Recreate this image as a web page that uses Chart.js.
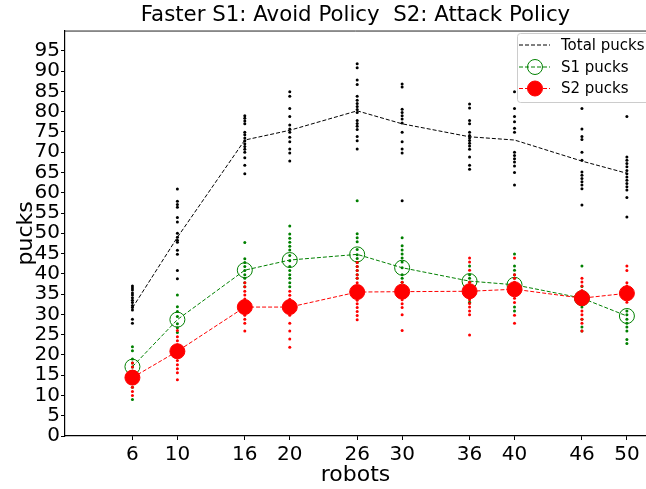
<!DOCTYPE html>
<html>
<head>
<meta charset="utf-8">
<script src="https://cdn.jsdelivr.net/npm/chart.js@4"></script>
<style>
  body { margin: 0; background: #fff; }
  canvas { display: block; }
</style>
</head>
<body>
<canvas id="chart" width="646" height="489"></canvas>
<script>
// robot counts on the x axis
const robots = [6, 10, 16, 20, 26, 30, 36, 40, 46, 50]
const yTicks = [0, 5, 10, 15, 20, 25, 30, 35, 40, 45, 50, 55, 60, 65, 70, 75, 80, 85, 90, 95]

// means per robot count
const totalMean = [31.6, 49.0, 73.0, 75.4, 80.2, 77.0, 73.8, 73.0, 67.8, 64.8]
const s1Mean = [17.1, 28.7, 40.9, 43.4, 44.8, 41.5, 38.2, 37.3, 34.0, 29.6]
const s2Mean = [14.4, 20.9, 31.8, 31.8, 35.5, 35.6, 35.7, 36.2, 34.0, 35.2]

// single runs, one list per robot count
const totalRuns = [
  [37, 36.5, 36, 35.3, 34.8, 34.1, 33.5, 32.9, 32.2, 31.7, 31.1, 28.8, 27.8],
  [60.9, 57.9, 57.1, 56.4, 53.9, 52.8, 50.0, 49.0, 48.3, 47.8, 45.8, 44.8, 40.8, 38.8],
  [79.0, 78.4, 77.7, 77.0, 74.9, 74.3, 73.5, 72.8, 72.1, 71.4, 70.7, 70.0, 68.6, 66.8, 64.7],
  [84.9, 83.8, 80.8, 78.8, 76.7, 75.7, 74.9, 73.7, 72.6, 70.8, 69.8, 67.8],
  [91.8, 90.8, 87.8, 86.7, 83.8, 82.8, 82.0, 81.3, 80.5, 79.8, 77.8, 77.1, 76.4, 75.6, 73.9, 72.8, 70.8],
  [86.8, 86.1, 80.6, 79.8, 79.0, 78.2, 77.2, 74.9, 72.6, 70.8, 69.8, 58.0],
  [81.9, 80.9, 77.8, 77.0, 74.9, 74.1, 73.5, 72.9, 72.2, 71.5, 70.7, 68.8, 66.8, 65.8],
  [84.9, 80.8, 78.8, 77.5, 75.9, 74.9, 70.0, 69.2, 68.4, 67.6, 66.6, 65.0, 61.9],
  [80.8, 75.7, 73.9, 73.1, 70.0, 68.0, 65.1, 64.3, 63.5, 62.7, 61.9, 61.0, 57.0],
  [78.8, 68.8, 68.0, 67.2, 66.4, 65.5, 64.7, 63.9, 63.1, 62.3, 61.5, 60.7, 58.8, 54.0]
]
const s1Runs = [
  [22, 21, 19, 18, 17, 16, 13, 12, 9],
  [34.8, 31.9, 30.7, 29.5, 27.7, 26.7, 25.5],
  [47.7, 43.7, 42.8, 41.8, 40.8, 39.8, 38.9, 37.8, 36.8],
  [51.8, 49.8, 48.8, 47.8, 46.8, 45.9, 44.5, 43.2, 41.8, 40.8, 39.8, 38.9, 37.8, 36.8],
  [58.0, 49.9, 48.9, 47.9, 46.0, 44.7, 43.8, 42.8, 41.8, 40.8, 39.8, 38.9],
  [48.9, 46.9, 45.9, 44.9, 43.9, 42.9, 41.5, 39.8, 38.9, 37.9],
  [41.9, 39.8, 38.9, 37.9, 36.9, 35.9, 34.0, 33.0],
  [44.9, 41.9, 40.9, 39.8, 38.9, 37.8, 36.9, 31.8, 30.8],
  [41.9, 36.9, 35.0, 33.9, 31.8, 28.8, 26.9, 25.9],
  [30.8, 29.9, 28.8, 27.8, 26.9, 25.9, 23.8, 22.8]
]
const s2Runs = [
  [18, 17, 16, 15, 14, 13, 12, 11, 10],
  [26, 24.5, 23.5, 22.5, 21.5, 20.5, 19.5, 18.6, 17.6, 16.6, 15.6, 13.9],
  [37.8, 36.8, 35.7, 34.8, 33.8, 32.8, 31.7, 30.7, 29.8, 28.8, 27.8, 25.9],
  [35.7, 34.7, 33.7, 32.7, 31.7, 30.7, 29.8, 27.8, 25.9, 23.9, 21.9],
  [42.8, 41.8, 40.8, 39.8, 38.9, 37.8, 36.8, 35.5, 34.5, 33.5, 32.6, 31.7, 30.7, 29.7, 28.7],
  [37.9, 36.9, 35.9, 34.9, 33.6, 32.6, 31.7, 29.9, 26.0],
  [43.9, 42.9, 40.9, 37.9, 36.9, 35.9, 34.9, 33.6, 32.7, 31.8, 30.8, 29.9, 24.9],
  [43.9, 39.8, 38.9, 37.9, 36.9, 35.9, 34.0, 32.9, 29.8, 27.8],
  [38.9, 38.0, 37.0, 35.9, 34.9, 33.9, 32.9, 30.8, 29.9, 28.8, 27.8, 25.9],
  [41.9, 40.8, 37.8, 37.0, 35.9, 35.1, 34.0, 33.0]
]

const GREEN = '#008000'
const RED = '#ff0000'
const FONT = 'DejaVu Sans'

const toPoints = (ys) => robots.map((x, i) => ({ x, y: ys[i] }))
const toDots = (runs) => runs.flatMap((ys, i) => ys.map(y => ({ x: robots[i], y })))

const dots = (runs, color, order) => ({
  type: 'scatter',
  data: toDots(runs),
  showLine: false,
  pointRadius: 1.5,
  pointBorderWidth: 0,
  pointBackgroundColor: color,
  order
})

const meanLine = (ys, color, order, marker) => ({
  type: 'line',
  data: toPoints(ys),
  borderColor: color,
  borderWidth: 1,
  borderDash: [4, 2],
  fill: false,
  tension: 0,
  pointRadius: marker ? 7.5 : 0,
  pointBorderWidth: 1,
  pointBorderColor: color,
  pointBackgroundColor: marker === 'filled' ? color : 'rgba(0,0,0,0)',
  order
})

// matplotlib style legend box plus the top spine
const extras = {
  id: 'extras',
  afterDraw(chart) {
    const { ctx, chartArea } = chart
    ctx.save()
    ctx.strokeStyle = '#222'
    ctx.lineWidth = 1
    ctx.beginPath()
    ctx.moveTo(chartArea.left, chartArea.top + 0.5)
    ctx.lineTo(chartArea.right, chartArea.top + 0.5)
    ctx.stroke()

    const bx = 517, by = 33, bw = 140, bh = 69
    ctx.fillStyle = 'rgba(255,255,255,0.85)'
    ctx.strokeStyle = '#cccccc'
    ctx.beginPath()
    ctx.roundRect(bx + 0.5, by + 0.5, bw, bh, 3)
    ctx.fill()
    ctx.stroke()

    const rows = [
      { label: 'Total pucks', color: 'black', marker: null, y: 45 },
      { label: 'S1 pucks', color: GREEN, marker: 'open', y: 67 },
      { label: 'S2 pucks', color: RED, marker: 'filled', y: 88.5 }
    ]
    ctx.font = '15px "' + FONT + '"'
    ctx.textBaseline = 'middle'
    rows.forEach(r => {
      ctx.strokeStyle = r.color
      ctx.lineWidth = 1
      ctx.setLineDash([4, 2])
      ctx.beginPath()
      ctx.moveTo(519, r.y)
      ctx.lineTo(550, r.y)
      ctx.stroke()
      ctx.setLineDash([])
      if (r.marker) {
        ctx.beginPath()
        ctx.arc(535, r.y, 7.5, 0, Math.PI * 2)
        if (r.marker === 'filled') {
          ctx.fillStyle = r.color
          ctx.fill()
        }
        ctx.stroke()
      }
      ctx.fillStyle = 'black'
      ctx.fillText(r.label, 561, r.y + 1)
    })
    ctx.restore()
  }
}

const chart = new Chart(document.getElementById('chart'), {
  type: 'scatter',
  data: {
    datasets: [
      meanLine(s2Mean, RED, 1, 'filled'),
      dots(s2Runs, RED, 2),
      meanLine(s1Mean, GREEN, 3, 'open'),
      dots(s1Runs, GREEN, 4),
      meanLine(totalMean, 'black', 5, null),
      dots(totalRuns, 'black', 6)
    ]
  },
  options: {
    responsive: false,
    animation: false,
    devicePixelRatio: 1,
    events: [],
    layout: { autoPadding: false, padding: { top: 0, right: 0, bottom: 0, left: 0 } },
    plugins: {
      legend: { display: false },
      tooltip: { enabled: false },
      title: {
        display: true,
        fullSize: false,
        text: 'Faster S1: Avoid Policy  S2: Attack Policy',
        color: 'black',
        font: { family: FONT, size: 21.3, weight: 'normal' },
        padding: { top: 3, bottom: 2 }
      }
    },
    scales: {
      x: {
        type: 'linear',
        min: 0,
        max: 51.7,
        afterBuildTicks: axis => { axis.ticks = robots.map(v => ({ value: v })) },
        afterFit: scale => {
          scale.height = 53
          scale.paddingRight = 0
          scale.paddingLeft = 0
        },
        grid: { drawOnChartArea: false, drawTicks: true, tickLength: 4, color: 'black' },
        border: { color: 'black', width: 1.2 },
        ticks: {
          color: 'black',
          padding: 3,
          maxRotation: 0,
          autoSkip: false,
          font: { family: FONT, size: 20 }
        },
        title: {
          display: true,
          text: 'robots',
          color: 'black',
          font: { family: FONT, size: 22 },
          padding: { top: 0, bottom: 1 }
        }
      },
      y: {
        min: 0,
        max: 100,
        afterBuildTicks: axis => { axis.ticks = yTicks.map(v => ({ value: v })) },
        afterFit: scale => { scale.width = 65 },
        grid: { drawOnChartArea: false, drawTicks: true, tickLength: 4, color: 'black' },
        border: { color: 'black', width: 1.2 },
        ticks: {
          color: 'black',
          padding: 1,
          autoSkip: false,
          font: { family: FONT, size: 20 }
        },
        title: {
          display: true,
          text: 'pucks',
          color: 'black',
          font: { family: FONT, size: 22 },
          padding: { top: 13, bottom: 0 }
        }
      }
    }
  },
  plugins: [extras]
})
</script>
</body>
</html>
